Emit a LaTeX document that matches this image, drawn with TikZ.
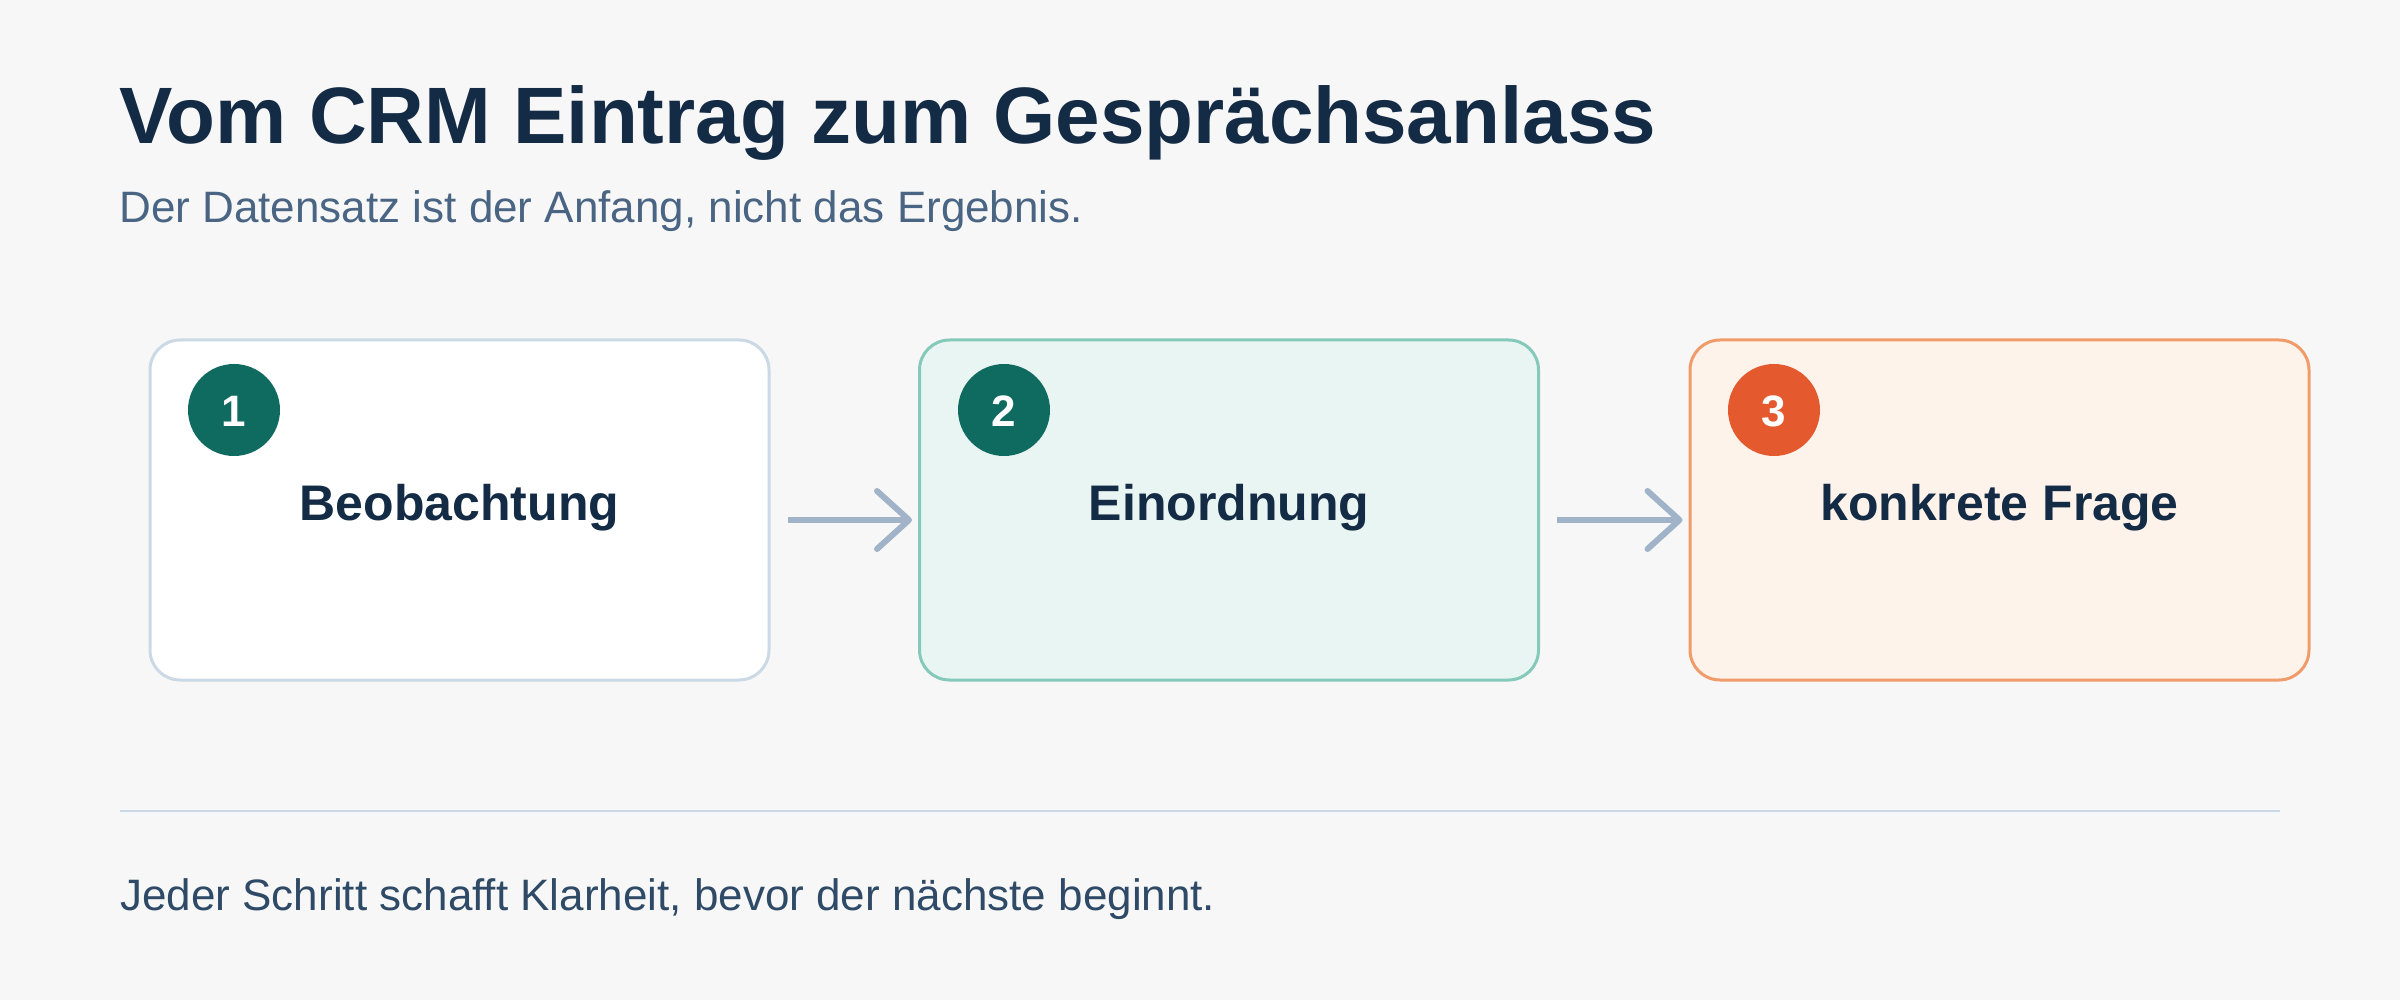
\documentclass[tikz,border=0pt]{standalone}
\usepackage{fontspec}
\setmainfont{Liberation Sans}
\usetikzlibrary{arrows.meta}
\definecolor{bg}{HTML}{F7F7F7}
\definecolor{navy}{HTML}{142B45}
\definecolor{subc}{HTML}{4A6583}
\definecolor{footc}{HTML}{2F4A66}
\definecolor{b1fill}{HTML}{FFFFFF}
\definecolor{b1draw}{HTML}{CBD9E6}
\definecolor{b2fill}{HTML}{E9F5F2}
\definecolor{b2draw}{HTML}{84C9B9}
\definecolor{b3fill}{HTML}{FEF3EB}
\definecolor{b3draw}{HTML}{F09C6A}
\definecolor{teal}{HTML}{0F6B5F}
\definecolor{orng}{HTML}{E45A2E}
\definecolor{arrc}{HTML}{A0B3C8}
\definecolor{rulec}{HTML}{C8D8E4}
\tikzset{
  stepbox/.style={rectangle, rounded corners=15pt, line width=1.5pt,
    minimum width=309.5pt, minimum height=170pt, inner sep=0pt},
  numdot/.style={circle, minimum size=46pt, inner sep=0pt},
  numtext/.style={anchor=base, text=white, font=\fontsize{22}{26}\selectfont\bfseries, inner sep=0pt},
  boxtext/.style={anchor=base, text=navy, font=\fontsize{25}{30}\selectfont\bfseries, inner sep=0pt},
  flow/.style={draw=arrc, line width=3pt, -{Straight Barb[length=16pt,width=29pt,line cap=round,line join=round]}}
}
\begin{document}
\begin{tikzpicture}[x=0.5pt,y=-0.5pt]
\useasboundingbox (0,0) rectangle (2400,1000);
\fill[bg] (0,0) rectangle (2400,1000);
% title
\node[anchor=base west, inner sep=0pt, text=navy, font=\fontsize{40}{48}\selectfont\bfseries] (title) at (119,144) {Vom CRM Eintrag zum Gesprächsanlass};
\node[anchor=base west, inner sep=0pt, text=subc, font=\fontsize{22}{26}\selectfont] (sub) at (119,223) {Der Datensatz ist der Anfang, nicht das Ergebnis.};
% boxes
\node[stepbox, fill=b1fill, draw=b1draw] (b1) at (459.5,510) {};
\node[stepbox, fill=b2fill, draw=b2draw] (b2) at (1229,510) {};
\node[stepbox, fill=b3fill, draw=b3draw] (b3) at (1999.5,510) {};
% number circles
\node[numdot, fill=teal] (c1) at (234,410) {};
\node[numdot, fill=teal] (c2) at (1004,410) {};
\node[numdot, fill=orng] (c3) at (1774,410) {};
\node[numtext] (n1) at (234,426) {1};
\node[numtext] (n2) at (1004,426) {2};
\node[numtext] (n3) at (1774,426) {3};
% labels
\node[boxtext] (t1) at (459.5,520) {Beobachtung};
\node[boxtext] (t2) at (1229,520) {Einordnung};
\node[boxtext] (t3) at (1999.5,520) {konkrete Frage};
% arrows
\draw[flow] ([xshift=8.5pt,yshift=-5pt]b1.east) -- ([xshift=-3pt,yshift=-5pt]b2.west);
\draw[flow] ([xshift=8.5pt,yshift=-5pt]b2.east) -- ([xshift=-3pt,yshift=-5pt]b3.west);
% divider
\coordinate (r1) at (120,811);
\coordinate (r2) at (2280,811);
\draw[rulec, line width=1pt] (r1) -- (r2);
% footer
\node[anchor=base west, inner sep=0pt, text=footc, font=\fontsize{22}{26}\selectfont] (foot) at (120,910) {Jeder Schritt schafft Klarheit, bevor der nächste beginnt.};
\end{tikzpicture}
\end{document}
